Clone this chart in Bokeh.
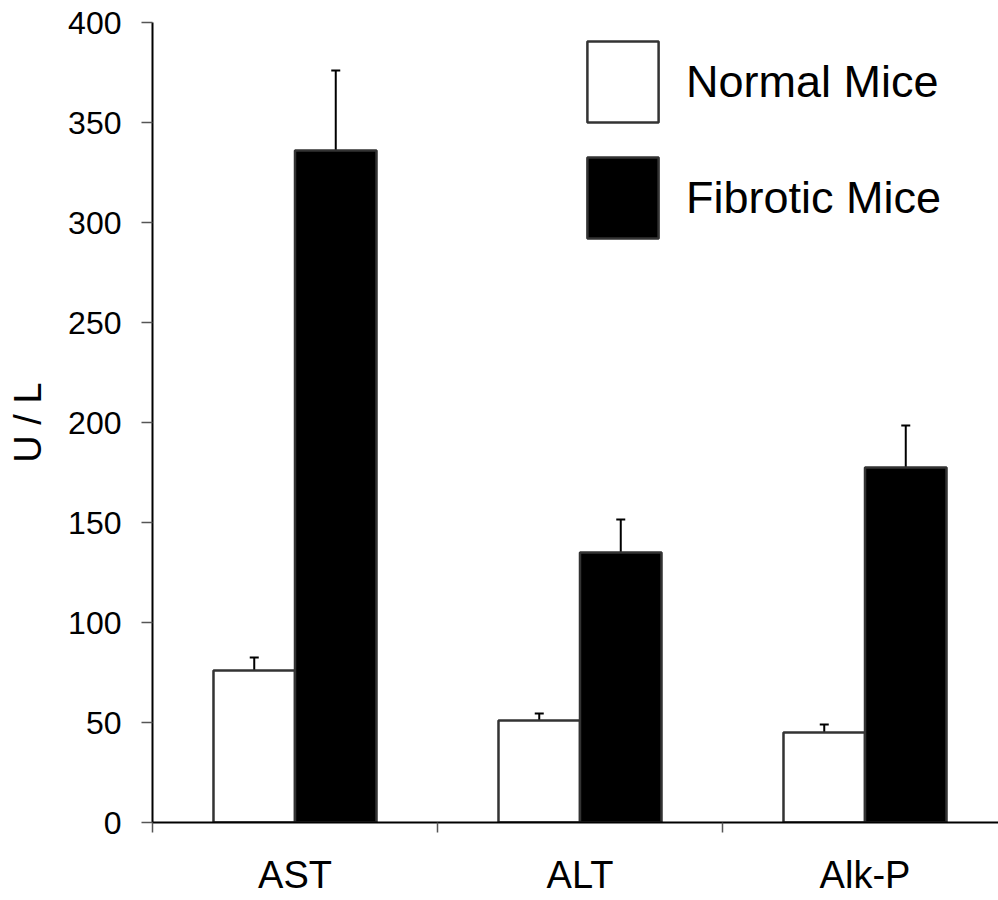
import numpy as np
from bokeh.plotting import figure
from bokeh.models import (ColumnDataSource, Range1d, FixedTicker, Whisker, TeeHead,
                          Legend, LegendItem)
from bokeh.embed import file_html
from bokeh.resources import INLINE

# ---- data ----
categories = ["AST", "ALT", "Alk-P"]
normal_mean = [76, 51, 45]
normal_err = [6.5, 3.5, 4]
fibrotic_mean = [336, 135, 177.5]
fibrotic_err = [40, 16.5, 21]
y_ticks = [0, 50, 100, 150, 200, 250, 300, 350, 400]
series_names = ["Normal Mice", "Fibrotic Mice"]

FONT = "Liberation Sans"
centers = np.arange(len(categories)) + 0.5
offset = 0.143
bar_w = 0.286

src_n = ColumnDataSource(dict(
    x=centers - offset, top=normal_mean,
    upper=np.array(normal_mean) + np.array(normal_err)))
src_f = ColumnDataSource(dict(
    x=centers + offset, top=fibrotic_mean,
    upper=np.array(fibrotic_mean) + np.array(fibrotic_err)))

p = figure(width=998, height=900, output_backend="svg", toolbar_location=None,
           x_range=Range1d(0, 2.9684), y_range=Range1d(0, 400),
           min_border_left=152, min_border_right=0, min_border_top=22,
           min_border_bottom=78)
p.outline_line_color = None
p.grid.visible = False
p.background_fill_color = "white"

r_n = p.vbar(x="x", top="top", width=bar_w, source=src_n, fill_color="white",
             line_color="#333333", line_width=2.5)
r_f = p.vbar(x="x", top="top", width=bar_w, source=src_f, fill_color="black",
             line_color="#333333", line_width=2.5)

for src in (src_n, src_f):
    w = Whisker(base="x", upper="upper", lower="top", source=src,
                line_color="black", line_width=2,
                upper_head=TeeHead(size=9, line_color="black", line_width=2),
                lower_head=None)
    p.add_layout(w)

legend = Legend(items=[LegendItem(label=series_names[0], renderers=[r_n]),
                       LegendItem(label=series_names[1], renderers=[r_f])],
                location=(426, 574), glyph_width=89, glyph_height=101,
                spacing=15, padding=0, margin=0, label_standoff=19,
                label_text_font=FONT, label_text_font_size="45px",
                label_text_color="black",
                border_line_color=None, background_fill_alpha=0)
p.add_layout(legend, "center")

# y axis
ya = p.yaxis[0]
ya.ticker = FixedTicker(ticks=y_ticks, minor_ticks=[])
ya.axis_label = "U / L"
ya.axis_label_text_font = FONT
ya.axis_label_text_font_size = "38px"
ya.axis_label_text_font_style = "normal"
ya.axis_label_text_color = "black"
ya.axis_label_standoff = 16
ya.major_label_text_font = FONT
ya.major_label_text_font_size = "32px"
ya.major_label_text_color = "black"
ya.major_label_standoff = 20
ya.major_tick_out = 11
ya.major_tick_in = 0
ya.major_tick_line_color = "#555555"
ya.major_tick_line_width = 1.5
ya.minor_tick_line_color = None
ya.axis_line_color = "black"
ya.axis_line_width = 2

# x axis: labels at category centres, ticks at category boundaries
xa = p.xaxis[0]
boundaries = list(range(len(categories) + 1))
xa.ticker = FixedTicker(ticks=list(centers), minor_ticks=boundaries)
xa.major_label_overrides = {float(c): lab for c, lab in zip(centers, categories)}
xa.axis_label = None
xa.major_label_text_font = FONT
xa.major_label_text_font_size = "38px"
xa.major_label_text_color = "black"
xa.major_label_standoff = 21
xa.major_tick_line_color = None
xa.major_tick_out = 0
xa.major_tick_in = 0
xa.minor_tick_out = 10
xa.minor_tick_in = 0
xa.minor_tick_line_color = "#555555"
xa.minor_tick_line_width = 1.5
xa.axis_line_color = "black"
xa.axis_line_width = 2

open("out.html", "w").write(file_html(p, INLINE))
